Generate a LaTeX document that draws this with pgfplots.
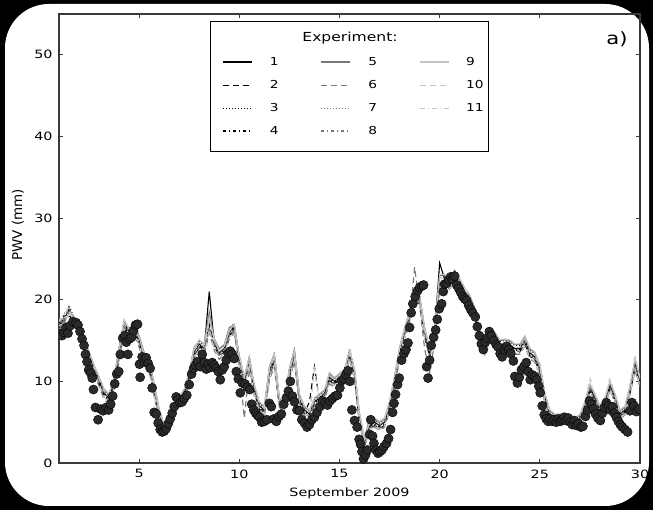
\documentclass[border=0pt]{standalone}
\usepackage{fontspec}
\usepackage{pgfplots}
\usepackage{pgfplotstable}
\pgfplotsset{compat=1.18}
\setmainfont{DejaVu Sans}
\newfontfamily\wfont{DejaVu Sans}[FakeStretch=1.25]
\newfontfamily\plainsans{DejaVu Sans}

\definecolor{expdark}{HTML}{000000}
\definecolor{expmid}{HTML}{777777}
\definecolor{explight}{HTML}{C4C4C4}
\definecolor{obsfill}{HTML}{2A2A2A}
\definecolor{framecol}{HTML}{3A3A3A}

% Model runs: x = day of September 2009, e1..e11 = PWV (mm)
\pgfplotstableread{
x e1 e2 e3 e4 e5 e6 e7 e8 e9 e10 e11
1.00 17.0 16.5 17.2 16.8 17.4 16.2 17.0 16.7 17.6 16.9 17.3
1.25 17.5 17.9 17.2 18.0 17.1 17.6 18.3 17.4 17.8 17.0 18.1
1.50 18.8 18.2 19.3 18.0 18.5 17.9 18.7 19.0 18.1 18.6 19.2
1.75 17.6 17.1 17.8 17.3 17.9 16.8 17.5 17.2 18.0 17.4 17.0
2.00 16.5 16.1 16.8 16.3 16.9 15.8 16.6 16.2 16.7 16.0 16.4
2.25 15.0 14.6 15.3 14.8 15.4 14.3 15.1 14.9 15.5 14.7 15.2
2.50 13.1 12.8 13.4 12.9 13.6 12.4 13.2 13.0 13.5 12.7 13.3
2.75 11.5 11.2 11.8 11.4 11.9 10.9 11.6 11.3 12.0 11.1 11.7
3.00 10.1 9.7 10.4 9.9 10.5 9.4 10.2 9.8 10.6 9.6 10.3
3.25 8.6 8.2 8.9 8.4 9.0 7.8 8.7 8.3 9.1 8.1 8.8
3.50 7.9 7.5 8.2 7.7 8.4 7.2 8.0 7.6 8.5 7.4 8.1
3.75 9.8 9.3 10.2 9.6 10.4 9.0 10.0 9.5 10.5 9.2 10.1
4.00 13.4 12.8 13.9 13.1 14.2 12.3 13.6 13.0 14.0 12.6 13.8
4.25 17.2 16.6 17.5 16.9 17.3 16.2 17.0 16.7 17.6 16.4 17.1
4.50 16.0 15.4 16.3 15.8 16.5 15.0 16.1 15.6 16.4 15.2 16.2
4.75 16.6 16.1 16.9 16.3 17.0 15.7 16.7 16.2 16.8 15.9 16.5
5.00 15.1 14.6 15.5 14.9 15.6 14.2 15.2 14.7 15.4 14.4 15.3
5.25 13.0 12.5 13.4 12.8 13.5 12.1 13.1 12.6 13.3 12.3 13.2
5.50 12.1 11.6 12.4 11.8 12.6 11.2 12.2 11.7 12.5 11.4 12.3
5.75 9.1 8.6 9.5 8.9 9.7 8.2 9.2 8.7 9.6 8.4 9.3
6.00 6.1 5.7 6.4 5.9 6.6 5.3 6.2 5.8 6.5 5.5 6.3
6.25 4.2 3.9 4.5 4.1 4.6 3.7 4.3 4.0 4.6 3.8 4.4
6.50 5.0 4.6 5.3 4.8 5.4 4.4 5.1 4.7 5.5 4.5 5.2
6.75 6.5 6.1 6.8 6.3 6.9 5.9 6.6 6.2 7.0 6.0 6.7
7.00 7.6 7.2 7.9 7.4 8.0 6.9 7.7 7.3 8.1 7.1 7.8
7.25 8.5 8.1 8.9 8.3 9.0 7.8 8.6 8.2 9.1 8.0 8.7
7.50 10.6 10.1 11.0 10.4 11.2 9.7 10.7 10.2 11.1 9.9 10.8
7.75 13.6 13.1 14.0 13.3 14.2 12.7 13.7 13.2 14.1 12.9 13.8
8.00 14.6 14.1 14.9 14.3 15.0 13.8 14.7 14.2 15.1 13.9 14.8
8.25 14.0 13.6 14.4 13.8 14.6 13.2 14.1 13.7 14.5 13.4 14.2
8.50 21.0 17.2 18.1 16.8 18.5 16.0 17.6 16.6 17.9 16.3 17.4
8.75 14.6 14.2 15.0 14.4 15.2 13.8 14.7 14.3 15.1 14.0 14.9
9.00 13.5 13.1 13.9 13.3 14.0 12.7 13.6 13.2 13.8 12.9 13.7
9.25 14.0 13.6 14.4 13.8 14.5 13.2 14.1 13.7 14.3 13.4 14.2
9.50 16.0 15.6 16.4 15.8 16.6 15.2 16.1 15.7 16.3 15.4 16.2
9.75 16.8 16.2 17.1 16.5 16.9 15.9 16.6 16.3 17.0 16.0 16.7
10.00 12.6 12.1 12.9 12.3 13.1 11.8 12.7 12.2 13.0 11.9 12.8
10.25 10.0 9.6 10.4 9.8 10.5 5.5 10.1 9.7 10.6 9.4 10.2
10.50 12.8 12.2 13.1 12.4 12.6 11.5 12.9 12.0 13.0 11.8 12.5
10.75 9.0 8.6 9.4 8.8 9.5 8.2 9.1 8.7 9.6 8.4 9.2
11.00 7.0 6.6 7.3 6.8 7.4 6.3 7.1 6.7 7.5 6.5 7.2
11.25 6.5 6.1 6.8 6.3 6.9 5.6 6.6 6.2 7.0 6.0 6.7
11.50 11.2 10.6 11.6 10.9 11.8 10.2 11.3 10.7 11.7 10.4 11.4
11.75 12.8 12.2 13.2 12.5 13.4 11.8 12.9 12.3 13.3 12.0 13.0
12.00 7.5 7.1 7.8 7.3 7.9 6.8 7.6 7.2 8.0 7.0 7.7
12.25 7.0 6.6 7.3 6.8 7.4 6.3 7.1 6.7 7.5 6.5 7.2
12.50 11.0 10.5 11.4 10.8 11.6 10.1 11.1 10.6 11.5 10.3 11.2
12.75 13.4 12.8 13.8 13.1 13.9 12.4 13.5 12.9 13.7 12.6 13.6
13.00 8.0 7.6 8.3 7.8 8.4 7.3 8.1 7.7 8.5 7.5 8.2
13.25 6.5 6.1 6.8 6.3 6.9 5.8 6.6 6.2 7.0 6.0 6.7
13.50 6.0 7.5 6.3 5.8 6.4 5.5 6.1 5.7 6.5 5.6 6.2
13.75 7.5 11.8 7.8 7.3 7.9 7.0 7.6 7.2 8.0 11.5 7.7
14.00 8.0 7.6 8.3 7.8 8.4 7.3 8.1 7.7 8.5 7.5 8.2
14.25 8.5 8.1 8.8 8.3 8.9 7.8 8.6 8.2 9.0 8.0 8.7
14.50 10.5 10.1 10.9 10.3 11.0 9.7 10.6 10.2 11.1 9.9 10.7
14.75 10.0 9.6 10.3 9.8 10.4 9.3 10.1 9.7 10.5 9.5 10.2
15.00 10.5 10.1 10.8 10.3 10.9 9.8 10.6 10.2 11.0 10.0 10.7
15.25 11.0 10.6 11.3 10.8 11.4 10.3 11.1 10.7 11.5 10.5 11.2
15.50 13.6 13.0 14.0 13.2 13.7 12.6 13.4 12.9 13.8 12.8 13.3
15.75 11.0 10.6 11.4 10.8 11.5 10.2 11.1 10.7 11.6 10.4 11.2
16.00 5.5 5.1 5.9 5.3 6.0 4.8 5.6 5.2 6.1 5.0 5.7
16.25 2.5 2.2 2.8 2.4 2.9 2.0 2.6 2.3 3.0 2.1 2.7
16.50 4.5 4.1 4.8 4.3 5.5 3.9 4.6 4.2 5.0 4.0 4.7
16.75 5.0 4.6 5.3 4.8 5.4 4.4 5.1 4.7 5.5 4.5 5.2
17.00 4.6 4.2 4.9 4.4 5.0 4.0 4.7 4.3 5.1 4.1 4.8
17.25 5.0 4.6 5.3 4.8 5.4 4.4 5.1 4.7 5.5 4.5 5.2
17.50 7.0 6.6 7.4 6.8 7.5 6.3 7.1 6.7 7.6 6.5 7.2
17.75 10.0 9.6 10.4 9.8 10.6 9.2 10.1 9.7 10.5 9.4 10.2
18.00 13.5 13.0 13.9 13.2 14.1 12.7 13.6 13.1 14.0 12.9 13.7
18.25 16.0 15.6 16.4 15.8 16.5 15.2 16.1 15.7 16.6 15.4 16.2
18.50 18.0 17.6 18.4 17.8 18.5 17.2 18.1 17.7 18.6 17.4 18.2
18.75 20.0 19.5 20.3 19.8 20.4 24.0 20.1 19.6 20.5 19.3 20.2
19.00 20.0 19.6 20.3 19.8 20.5 19.2 20.1 19.7 20.4 19.4 20.2
19.25 16.0 15.5 16.4 15.8 16.6 14.0 16.1 15.6 16.5 15.3 16.2
19.50 13.5 13.0 13.9 13.3 14.0 11.0 13.6 13.1 14.1 12.8 13.7
19.75 16.0 15.5 16.4 15.8 16.6 14.8 16.1 15.6 16.5 15.3 16.2
20.00 24.5 22.0 23.2 22.3 23.0 21.6 22.7 22.1 23.1 21.8 22.8
20.25 22.5 22.0 22.9 22.3 23.0 21.7 22.6 22.1 23.1 21.8 22.7
20.50 22.0 21.6 22.4 21.8 22.5 21.3 22.1 21.7 22.6 21.4 22.2
20.75 23.2 22.6 23.5 22.9 23.6 22.3 23.1 22.7 23.4 22.4 23.3
21.00 22.0 21.6 22.4 21.8 22.5 21.3 22.1 21.7 22.6 21.4 22.2
21.25 20.5 20.1 20.9 20.3 21.0 19.8 20.6 20.2 21.5 19.9 20.7
21.50 20.0 19.6 20.4 19.8 20.5 19.3 20.1 19.7 20.6 19.4 20.2
21.75 18.5 18.1 18.9 18.3 19.0 17.8 18.6 18.2 19.1 17.9 18.7
22.00 15.5 15.1 15.9 15.3 16.0 14.8 15.6 15.2 16.1 14.9 15.7
22.25 14.0 13.6 14.4 13.5 14.5 13.3 14.1 13.7 14.6 13.4 14.2
22.50 16.0 15.6 16.4 15.8 16.5 15.2 16.1 15.7 16.6 15.4 16.2
22.75 15.5 15.1 15.9 15.3 16.0 14.8 15.6 15.2 16.1 14.9 15.7
23.00 14.5 14.1 14.9 14.3 15.0 13.8 14.6 14.2 15.1 13.9 14.7
23.25 14.6 14.2 15.0 14.4 15.1 13.9 14.7 14.3 15.2 14.0 14.8
23.50 14.5 14.1 14.9 14.3 15.0 13.8 14.6 14.2 15.1 13.9 14.7
23.75 14.0 13.6 14.4 13.8 14.5 13.3 14.1 13.7 14.6 13.4 14.2
24.00 14.0 13.6 14.4 13.8 14.5 13.3 14.1 13.7 14.6 13.4 14.2
24.25 15.0 14.6 15.4 14.8 15.5 14.3 15.1 14.7 15.6 14.4 15.2
24.50 13.5 13.1 13.9 13.3 14.0 12.8 13.6 13.2 14.1 12.9 13.7
24.75 13.0 12.6 13.4 12.8 13.5 12.3 13.1 12.7 13.6 12.4 13.2
25.00 11.5 11.1 11.9 11.3 12.0 10.8 11.6 11.2 12.1 10.9 11.7
25.25 8.0 7.6 8.4 7.8 8.5 7.3 8.1 7.7 8.6 7.4 8.2
25.50 6.0 5.6 6.3 5.8 6.4 5.4 6.1 5.7 6.5 5.5 6.2
25.75 5.5 5.2 5.8 5.4 5.9 5.0 5.6 5.3 6.0 5.1 5.7
26.00 5.5 5.2 5.8 5.4 5.9 5.0 5.6 5.3 6.0 5.1 5.7
26.25 5.6 5.3 5.9 5.5 6.0 5.1 5.7 5.4 6.1 5.2 5.8
26.50 5.5 5.2 5.8 5.4 5.9 5.0 5.6 5.3 6.0 5.1 5.7
26.75 5.0 4.7 5.3 4.9 5.4 4.5 5.1 4.8 5.5 4.6 5.2
27.00 5.5 5.2 5.8 5.4 5.9 5.0 5.6 5.3 6.0 5.1 5.7
27.25 7.0 6.6 7.3 6.8 7.4 6.4 7.1 6.7 7.5 6.5 7.2
27.50 9.2 8.8 9.5 9.0 9.6 8.5 9.3 8.9 9.7 8.6 10.5
27.75 8.0 7.6 8.3 7.8 8.4 7.3 8.1 7.7 8.5 7.5 8.2
28.00 6.5 6.1 6.8 6.3 6.9 5.9 6.6 6.2 7.0 6.0 6.7
28.25 7.5 7.1 7.8 7.3 7.9 6.9 7.6 7.2 8.0 7.0 7.7
28.50 9.5 9.1 9.8 9.3 9.9 8.9 9.6 9.2 10.0 9.0 10.5
28.75 8.0 7.6 8.3 7.8 8.4 7.4 8.1 7.7 8.5 7.5 8.2
29.00 6.0 5.6 6.3 5.8 6.4 5.4 6.1 5.7 6.5 5.5 6.2
29.25 6.5 6.1 6.8 6.3 6.9 5.9 6.6 6.2 7.0 6.0 6.7
29.50 9.0 8.6 9.3 8.8 9.4 8.4 9.1 8.7 9.5 8.5 9.2
29.75 12.2 11.6 12.5 11.9 12.6 11.3 12.1 11.7 12.8 11.5 13.2
30.00 10.0 9.6 10.3 9.8 10.4 9.3 10.1 9.7 10.5 9.5 10.2
}\models

% Observed PWV (mm)
\pgfplotstableread{
x y
1.05 15.8
1.15 15.6
1.25 16.0
1.35 16.6
1.45 15.9
1.55 16.8
1.70 17.3
1.85 17.2
1.95 16.9
2.05 16.1
2.15 15.2
2.25 14.4
2.32 13.3
2.40 12.4
2.48 11.4
2.58 11.0
2.66 10.4
2.72 9.0
2.82 6.8
2.95 5.3
3.08 6.6
3.20 6.4
3.35 6.8
3.48 6.5
3.58 7.2
3.68 8.2
3.78 9.7
3.88 10.9
3.98 11.2
4.06 13.3
4.18 15.3
4.28 15.6
4.36 14.8
4.44 13.3
4.52 15.2
4.62 15.4
4.72 16.2
4.82 16.9
4.92 17.0
5.02 12.1
5.05 10.5
5.15 13.0
5.25 12.4
5.35 12.9
5.45 12.2
5.55 11.6
5.65 9.2
5.75 6.2
5.85 6.0
5.95 4.9
6.05 4.1
6.15 3.8
6.25 3.9
6.35 4.2
6.45 4.8
6.55 5.4
6.65 6.1
6.75 6.9
6.85 8.1
6.95 7.8
7.05 7.4
7.15 7.5
7.25 7.9
7.38 8.3
7.50 9.6
7.62 10.9
7.72 11.6
7.82 12.0
7.92 12.4
8.05 11.8
8.15 13.3
8.25 12.3
8.35 11.5
8.45 12.1
8.55 11.7
8.65 12.3
8.75 12.0
8.85 11.6
8.95 11.2
9.05 10.2
9.15 11.4
9.25 11.8
9.35 12.6
9.45 13.4
9.55 13.7
9.65 13.3
9.75 12.8
9.85 11.2
9.95 10.3
10.05 8.6
10.15 9.8
10.28 9.7
10.40 9.3
10.52 9.0
10.62 7.2
10.72 6.5
10.82 6.1
10.92 5.8
11.02 5.6
11.12 5.0
11.25 5.1
11.38 5.3
11.50 7.3
11.60 6.9
11.72 5.4
11.85 5.1
11.98 5.7
12.10 6.0
12.22 7.2
12.35 8.0
12.45 8.8
12.55 10.0
12.65 8.2
12.75 7.5
12.88 6.5
13.00 6.4
13.12 5.3
13.25 4.9
13.38 4.4
13.50 4.7
13.62 5.3
13.75 5.6
13.88 6.2
14.02 6.9
14.15 7.6
14.28 7.4
14.40 7.1
14.52 7.6
14.65 7.9
14.78 8.2
14.90 8.3
15.02 9.2
15.12 10.1
15.22 10.3
15.32 10.8
15.42 11.3
15.52 10.0
15.62 6.5
15.75 5.2
15.88 4.4
15.98 2.9
16.05 2.3
16.12 1.4
16.20 0.5
16.30 1.0
16.40 1.6
16.50 3.5
16.56 5.3
16.65 3.3
16.72 2.4
16.82 1.6
16.92 1.2
17.02 1.4
17.12 1.6
17.22 2.0
17.35 2.4
17.45 3.0
17.55 4.1
17.65 6.2
17.72 7.3
17.80 8.4
17.90 9.6
17.98 10.4
18.10 12.6
18.22 13.4
18.32 13.9
18.42 14.7
18.50 16.6
18.58 18.4
18.66 19.5
18.78 20.4
18.90 21.1
19.00 21.5
19.12 21.7
19.20 21.8
19.35 11.8
19.42 10.4
19.50 12.6
19.58 14.4
19.70 15.4
19.80 16.3
19.88 17.6
19.98 18.9
20.10 19.5
20.18 21.0
20.25 21.9
20.35 22.0
20.45 22.4
20.55 22.8
20.65 22.5
20.75 22.9
20.85 21.8
20.95 21.4
21.05 20.9
21.15 20.4
21.25 20.1
21.35 19.9
21.45 19.3
21.55 18.8
21.65 18.4
21.78 17.9
21.88 16.7
21.98 15.6
22.08 14.6
22.18 13.9
22.28 14.8
22.38 15.3
22.48 16.1
22.58 15.6
22.70 15.0
22.82 14.5
22.92 14.2
23.02 13.4
23.12 13.0
23.25 13.8
23.35 14.3
23.45 13.9
23.55 13.4
23.68 12.5
23.75 10.6
23.88 9.8
23.98 10.5
24.08 11.4
24.20 11.8
24.32 12.3
24.42 11.2
24.52 10.2
24.62 10.8
24.75 10.6
24.85 10.2
24.95 9.4
25.02 8.6
25.12 7.0
25.22 5.9
25.32 5.4
25.42 5.1
25.52 5.4
25.62 5.1
25.72 5.3
25.82 5.0
25.92 5.4
26.02 5.1
26.12 5.3
26.22 5.6
26.32 5.2
26.42 5.5
26.52 5.0
26.62 4.7
26.72 5.2
26.82 4.6
26.92 4.8
27.05 4.4
27.15 4.5
27.28 5.7
27.38 6.5
27.48 7.6
27.58 7.2
27.68 6.6
27.78 6.0
27.90 5.5
28.02 5.2
28.12 6.1
28.22 6.8
28.32 7.4
28.42 7.0
28.52 6.5
28.62 6.9
28.72 6.1
28.82 5.6
28.92 5.1
29.02 4.7
29.12 4.4
29.25 4.1
29.38 3.8
29.50 6.4
29.60 7.4
29.70 7.0
29.82 6.3
29.95 6.6
}\obs

\tikzset{
  ex1/.style={expdark, line width=1.1bp},
  ex2/.style={expdark, line width=1.1bp, dash pattern=on 6bp off 4bp},
  ex3/.style={expdark, line width=1.1bp, dash pattern=on 1bp off 2bp},
  ex4/.style={expdark, line width=1.7bp, dash pattern=on 3bp off 3bp on 1bp off 3bp},
  ex5/.style={expmid, line width=1.1bp},
  ex6/.style={expmid, line width=1.1bp, dash pattern=on 6bp off 4bp},
  ex7/.style={expmid, line width=1.1bp, dash pattern=on 1bp off 2bp},
  ex8/.style={expmid, line width=1.7bp, dash pattern=on 3bp off 3bp on 1bp off 3bp},
  ex9/.style={explight, line width=1.1bp},
  ex10/.style={explight, line width=1.1bp, dash pattern=on 6bp off 4bp},
  ex11/.style={explight, line width=1.1bp, dash pattern=on 5bp off 3bp on 1bp off 3bp},
}

\begin{document}
\begin{tikzpicture}
\fill[black] (0,0) rectangle (653bp,510bp);
\fill[white, rounded corners=44bp] (5bp,4bp) rectangle (649bp,506bp);
\useasboundingbox (0,0) rectangle (653bp,510bp);
\begin{axis}[
  at={(59bp,47bp)}, anchor=south west,
  width=581bp, height=449bp, scale only axis,
  xmin=1, xmax=30, ymin=0, ymax=55,
  xtick={5,10,15,20,25,30},
  ytick={0,10,20,30,40,50},
  tick align=inside,
  major tick length=4bp,
  axis line style={framecol, line width=1.2bp},
  every tick/.style={framecol, line width=0.8bp},
  /pgf/number format/assume math mode=true,
  ticklabel style={font=\wfont\fontsize{11.5}{13}\selectfont},
  xticklabel style={yshift=-3bp},
  yticklabel style={xshift=-3bp},
  xlabel={September 2009},
  xlabel style={font=\wfont\fontsize{11.5}{13}\selectfont, at={(axis description cs:0.5,-0.0668)}, anchor=center},
  ylabel={PWV (mm)},
  ylabel style={font=\plainsans\fontsize{13.5}{15}\selectfont, at={(axis description cs:-0.0706,0.53)}, anchor=center},
  clip marker paths=true,
  legend columns=3,
  legend cell align=left,
  legend image code/.code={\draw[#1] plot coordinates {(0bp,0bp) (29bp,0bp)};},
  legend style={draw=none, fill=none, inner sep=0pt,
    at={(axis description cs:0.2806,0.9087)}, anchor=north west,
    font=\wfont\fontsize{11}{13}\selectfont,
    row sep=9.5bp,
    /tikz/every odd column/.append style={column sep=15bp},
    /tikz/every even column/.append style={column sep=40bp}},
]
\addplot[ex1, forget plot] table[x=x, y=e1] {\models};
\addplot[ex2, forget plot] table[x=x, y=e2] {\models};
\addplot[ex3, forget plot] table[x=x, y=e3] {\models};
\addplot[ex4, forget plot] table[x=x, y=e4] {\models};
\addplot[ex5, forget plot] table[x=x, y=e5] {\models};
\addplot[ex6, forget plot] table[x=x, y=e6] {\models};
\addplot[ex7, forget plot] table[x=x, y=e7] {\models};
\addplot[ex8, forget plot] table[x=x, y=e8] {\models};
\addplot[ex9, forget plot] table[x=x, y=e9] {\models};
\addplot[ex10, forget plot] table[x=x, y=e10] {\models};
\addplot[ex11, forget plot] table[x=x, y=e11] {\models};
\addplot[only marks, mark=*, mark size=4.6bp, mark options={fill=obsfill, draw=black, line width=0.4bp}, forget plot] table[x=x, y=y] {\obs};

% legend frame and heading
\draw[black, line width=1bp, fill=white] (axis description cs:0.2599,0.6927) rectangle (axis description cs:0.7384,0.9822);
\node[font=\wfont\fontsize{12.5}{14}\selectfont] at (axis description cs:0.5009,0.9465) {Experiment:};
\node[font=\wfont\fontsize{17}{19}\selectfont] at (axis description cs:0.9604,0.9443) {a)};

% legend, filled column by column
\addlegendimage{ex1}
\addlegendimage{ex5}
\addlegendimage{ex9}
\addlegendimage{ex2}
\addlegendimage{ex6}
\addlegendimage{ex10}
\addlegendimage{ex3}
\addlegendimage{ex7}
\addlegendimage{ex11}
\addlegendimage{ex4}
\addlegendimage{ex8}
\legend{1,5,9,2,6,10,3,7,11,4,8}
\end{axis}
\end{tikzpicture}
\end{document}
